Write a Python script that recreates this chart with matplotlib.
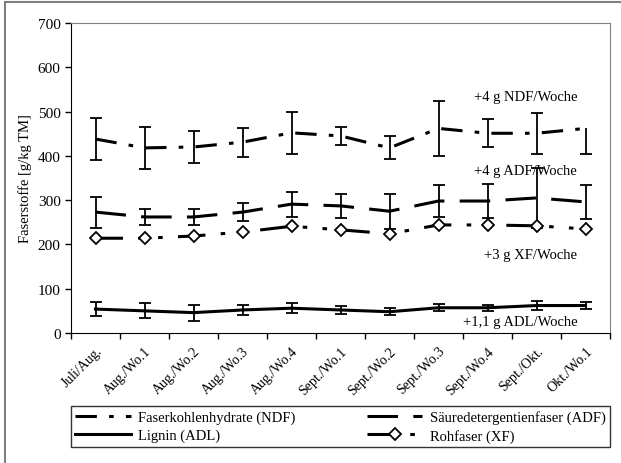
#!/usr/bin/env python3
import numpy as np
import matplotlib
matplotlib.use("Agg")
import matplotlib.pyplot as plt
from matplotlib.lines import Line2D
from matplotlib.patches import Rectangle

plt.rcParams['font.family'] = ['Liberation Serif', 'DejaVu Serif']

labels = ["Juli/Aug.", "Aug./Wo.1", "Aug./Wo.2", "Aug./Wo.3", "Aug./Wo.4",
          "Sept./Wo.1", "Sept./Wo.2", "Sept./Wo.3", "Sept./Wo.4",
          "Sept./Okt.", "Okt./Wo.1"]

ndf = [438, 418, 420, 431, 452, 445, 418, 462, 451, 451, 462]
ndf_lo = [47, 48, 36, 33, 48, 20, 26, 63, 32, 46, 58]
ndf_hi = [47, 48, 36, 33, 48, 20, 26, 63, 32, 46, 0]

adf = [273, 262, 262, 273, 291, 287, 275, 298, 298, 305, 296]
adf_err = [35, 19, 19, 21, 28, 28, 40, 37, 38, 68, 38]

adl = [54, 50, 46, 52, 56, 52, 48, 57, 57, 62, 62]
adl_err = [15, 17, 18, 12, 11, 10, 8, 8, 7, 10, 8]

xf = [214, 214, 219, 228, 241, 233, 224, 244, 244, 242, 235]

notes = ["+4 g NDF/Woche", "+4 g ADF/Woche", "+3 g XF/Woche", "+1,1 g ADL/Woche"]
note_y = [535, 368, 177, 25]

fig = plt.figure(figsize=(6.21, 4.64), dpi=100)
ax = fig.add_axes([71 / 621, 1 - 334 / 464, 539 / 621, 310 / 464])

x = np.arange(len(labels))
ekw = dict(ecolor="black", elinewidth=1.3, capsize=4, capthick=1.3)
ndf_style = dict(color="black", lw=2.2, dashes=(7, 4, 1.5, 4))
adf_style = dict(color="black", lw=2.2, dashes=(10, 5))
adl_style = dict(color="black", lw=2.2)
xf_style = dict(color="black", lw=2.2, dashes=(9, 5, 1.5, 5, 1.5, 5),
                marker="D", markersize=6.5, mfc="white", mec="black", mew=1.3)

_, caps, _ = ax.errorbar(x, ndf, yerr=[ndf_lo, ndf_hi], **ndf_style, **ekw)
# upper cap only where there is an upper error
caps[1].set_markevery([i for i, h in enumerate(ndf_hi) if h > 0])
ax.errorbar(x, adf, yerr=adf_err, **adf_style, **ekw)
ax.errorbar(x, adl, yerr=adl_err, **adl_style, **ekw)
ax.plot(x, xf, **xf_style)

for t, yv in zip(notes, note_y):
    ax.text(9.83, yv, t, ha="right", va="center", fontsize=10.5)

ax.set_xlim(-0.5, len(labels) - 0.5)
ax.set_ylim(0, 700)
ax.set_yticks(range(0, 701, 100))
ax.set_xticks(x)
ax.set_xticklabels(labels, rotation=45, ha="right", rotation_mode="anchor",
                   fontsize=10)
ax.set_xticks(np.arange(-0.5, len(labels), 1), minor=True)
ax.tick_params(axis="x", which="major", length=0, pad=8)
ax.tick_params(axis="x", which="minor", length=4, direction="out", width=1)
ax.tick_params(axis="y", length=4, direction="out", width=1, labelsize=11)
ax.set_ylabel("Faserstoffe [g/kg TM]", fontsize=10.5)
for s in ["top", "right"]:
    ax.spines[s].set_color("#808080")
for s in ["left", "bottom"]:
    ax.spines[s].set_color("black")

# handles in row-major order for a 2-column legend
handles = [Line2D([], [], **ndf_style), Line2D([], [], **adl_style),
           Line2D([], [], **adf_style), Line2D([], [], **xf_style)]
names = ["Faserkohlenhydrate (NDF)", "Lignin (ADL)",
         "Säuredetergentienfaser (ADF)", "Rohfaser (XF)"]
leg = fig.legend(handles, names, ncol=2, loc="upper left",
                 bbox_to_anchor=(71 / 621, 1 - 451 / 464, 539 / 621, 44 / 464),
                 mode="expand", fontsize=10.5, frameon=True, fancybox=False,
                 edgecolor="black", handlelength=3.8, handletextpad=0.5,
                 borderpad=0.3, labelspacing=0.3, numpoints=1,
                 columnspacing=2, borderaxespad=0)
leg.get_frame().set_linewidth(1.0)

fig.patches.append(Rectangle((5 / 621, -0.05), 1.2, 1 - 3 / 464 + 0.05,
                             transform=fig.transFigure, fill=False,
                             edgecolor="#808080", lw=1.5))

fig.savefig("out.png", dpi=100)
